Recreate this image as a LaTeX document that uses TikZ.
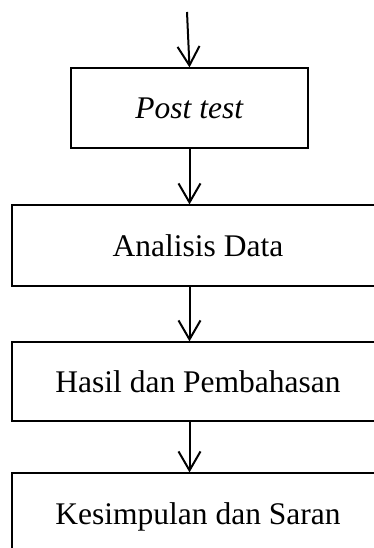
\documentclass[tikz,border=0pt]{standalone}
\usepackage{fontspec}
\setmainfont{Liberation Serif}
\usetikzlibrary{arrows.meta}

\begin{document}
\begin{tikzpicture}[x=1pt, y=-1pt]

        \useasboundingbox (0,0) rectangle (374,548);
        \clip (0,0) rectangle (374,548);

        \begin{scope}[every node/.style={draw, line width=1.2pt, inner sep=0pt,
            text height=22pt, text depth=0pt, font=\fontsize{31.5}{38}\selectfont}]
          \node[minimum width=237pt, minimum height=80pt] (post)  at (189.5,108) {\textit{Post test}};
          \node[minimum width=372pt, minimum height=81pt] (data)  at (198,245.5) {Analisis Data};
          \node[minimum width=372pt, minimum height=79pt] (hasil) at (198,381.5) {Hasil dan Pembahasan};
          \node[minimum width=372pt, minimum height=80pt] (saran) at (198,513)   {Kesimpulan dan Saran};
        \end{scope}

        \coordinate (in) at (187,12);

        \begin{scope}[line width=2pt, -{Straight Barb[length=19pt, width=22pt]}]
          \draw (in) -- (post.north);
          \draw (post.south) -- (post.south |- data.north);
          \draw (data.south -| post) -- (hasil.north -| post);
          \draw (hasil.south -| post) -- (saran.north -| post);
        \end{scope}

      \end{tikzpicture}
\end{document}
